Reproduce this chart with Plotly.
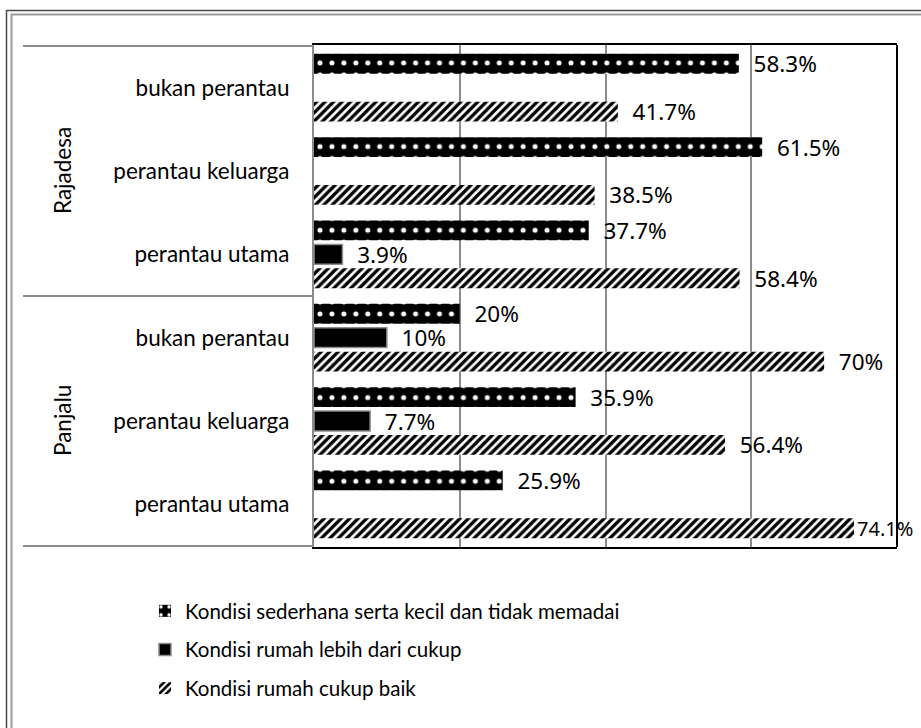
import plotly.graph_objects as go

# ---- data ----
groups = ["Rajadesa", "Panjalu"]
sub_categories = ["bukan perantau", "perantau keluarga", "perantau utama"]
series_names = [
    "Kondisi sederhana serta kecil dan tidak memadai",
    "Kondisi rumah lebih dari cukup",
    "Kondisi rumah cukup baik",
]
sederhana = [58.3, 61.5, 37.7, 20, 35.9, 25.9]
lebih_dari_cukup = [None, None, 3.9, 10, 7.7, None]
cukup_baik = [41.7, 38.5, 58.4, 70, 56.4, 74.1]
x_ticks = [0, 20, 40, 60, 80]

categories = [f"{g}|{s}" for g in groups for s in sub_categories]
tick_labels = [s for g in groups for s in sub_categories]

# ---- geometry helpers (pixel -> paper) ----
W_FIG, H_FIG = 921, 728
PL, PR, PT, PB = 314, 897, 45, 547
PW, PH = PR - PL, PB - PT


def px(x):
    return (x - PL) / PW


def py(y):
    return (PB - y) / PH


CAT_FONT = dict(family="Lato", size=22.5, color="black")
GROUP_FONT = dict(family="Lato", size=22.5, color="black")
LEGEND_FONT = dict(family="Lato", size=20.5, color="black")
VALUE_SIZE = 22.5


def templates(vals):
    return ["%{x}%" if (v is not None and v > 72) else "\u00a0\u00a0%{x}%" for v in vals]


def value_sizes(vals):
    return [20 if (v is not None and v > 72) else VALUE_SIZE for v in vals]


tile = PH / 6 / 7.0

fig = go.Figure()
fig.add_trace(go.Bar(
    y=categories, x=sederhana, orientation="h", name=series_names[0],
    legendgroup="a",
    marker=dict(color="black", line=dict(width=0),
                pattern=dict(shape=".", fgcolor="white", bgcolor="black",
                             size=tile, solidity=0.14, fillmode="replace")),
    texttemplate=templates(sederhana), textposition="outside",
    textfont=dict(family="Noto Sans", size=value_sizes(sederhana), color="black"),
    cliponaxis=False, constraintext="none",
))
fig.add_trace(go.Bar(
    y=categories, x=lebih_dari_cukup, orientation="h", name=series_names[1],
    legendgroup="b",
    marker=dict(color="black", line=dict(color="#8c8c8c", width=1.5)),
    texttemplate=templates(lebih_dari_cukup), textposition="outside",
    textfont=dict(family="Noto Sans", size=value_sizes(lebih_dari_cukup), color="black"),
    cliponaxis=False, constraintext="none",
))
fig.add_trace(go.Bar(
    y=categories, x=cukup_baik, orientation="h", name=series_names[2],
    legendgroup="c",
    marker=dict(color="white", line=dict(width=0),
                pattern=dict(shape="/", fgcolor="black", bgcolor="white",
                             size=6, solidity=0.55, fillmode="replace")),
    texttemplate=templates(cukup_baik), textposition="outside",
    textfont=dict(family="Noto Sans", size=value_sizes(cukup_baik), color="black"),
    cliponaxis=False, constraintext="none",
))

shapes = []
# outer double frame
shapes.append(dict(type="rect", xref="paper", yref="paper",
                   x0=px(6.5), y0=py(10.5), x1=px(960), y1=py(760),
                   line=dict(color="#4a4a4a", width=1.5), fillcolor="rgba(0,0,0,0)", layer="below"))
shapes.append(dict(type="rect", xref="paper", yref="paper",
                   x0=px(11.5), y0=py(14.5), x1=px(955), y1=py(755),
                   line=dict(color="#9a9a9a", width=2), fillcolor="rgba(0,0,0,0)", layer="below"))
# group separators
for yb in [-0.5, 2.5, 5.5]:
    shapes.append(dict(type="line", xref="paper", yref="y",
                       x0=px(23), x1=0, y0=yb, y1=yb,
                       line=dict(color="#8c8c8c", width=2)))
# right border of plot area
shapes.append(dict(type="line", xref="paper", yref="paper",
                   x0=1, x1=1, y0=0, y1=1, line=dict(color="black", width=2)))

annotations = []
for gi, g in enumerate(groups):
    mid = gi * len(sub_categories) + (len(sub_categories) - 1) / 2
    annotations.append(dict(text=g, xref="paper", yref="y", x=px(62), y=mid,
                            textangle=-90, showarrow=False, font=GROUP_FONT,
                            xanchor="center", yanchor="middle"))

fig.update_layout(
    width=W_FIG, height=H_FIG,
    margin=dict(l=PL, r=W_FIG - PR, t=PT, b=H_FIG - PB, pad=0),
    paper_bgcolor="white", plot_bgcolor="white",
    barmode="group", bargap=0.14, bargroupgap=0.17,
    showlegend=True,
    legend=dict(orientation="v", x=px(145), xanchor="left", y=py(591), yanchor="top",
                font=LEGEND_FONT, tracegroupgap=9, traceorder="grouped",
                bgcolor="rgba(0,0,0,0)"),
    xaxis=dict(range=[x_ticks[0], x_ticks[-1]], tickvals=x_ticks, showticklabels=False,
               showgrid=True, gridcolor="#8c8c8c", gridwidth=1.5, zeroline=False,
               showline=True, linecolor="black", linewidth=2, mirror=True, ticks=""),
    yaxis=dict(type="category", categoryorder="array", categoryarray=categories,
               autorange="reversed", tickvals=categories, ticktext=tick_labels,
               tickfont=CAT_FONT, ticks="", ticklabelstandoff=18,
               showline=True, linecolor="#8c8c8c", linewidth=2, showgrid=False,
               zeroline=False),
    shapes=shapes, annotations=annotations,
)

fig.write_html("out.html", config={"displayModeBar": False},
               post_script="document.body.style.margin='0';")
